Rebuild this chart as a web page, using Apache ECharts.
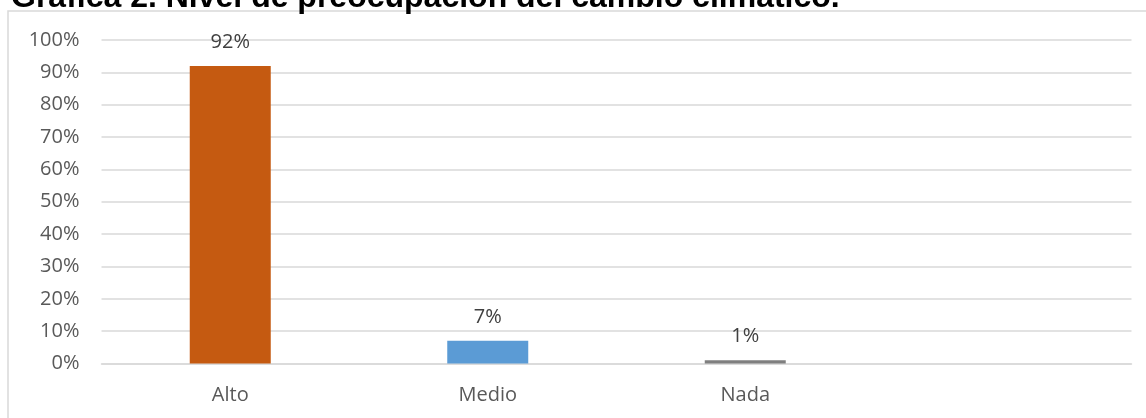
<!DOCTYPE html>
<html>
<head>
<meta charset="utf-8">
<script src="https://cdn.jsdelivr.net/npm/echarts@6/dist/echarts.min.js"></script>
<style>
  html, body { margin: 0; padding: 0; background: #ffffff; }
  #chart { width: 1146px; height: 418px; }
</style>
</head>
<body>
<div id="chart"></div>
<script>
// Nivel de preocupación del cambio climático (porcentaje de respuestas)
const categories = ['Alto', 'Medio', 'Nada', ''];
const values = [0.92, 0.07, 0.01, null];
const barColors = ['#c55a11', '#5b9bd5', '#7f7f7f', '#7f7f7f'];
const titleText = 'Gráfica 2. Nivel de preocupación del cambio climático.';

const chart = echarts.init(document.getElementById('chart'), null, { renderer: 'canvas' });

const pct = v => Math.round(v * 100) + '%';

chart.setOption({
  animation: false,
  backgroundColor: '#ffffff',
  textStyle: { fontFamily: 'Open Sans' },
  graphic: [
    {
      type: 'rect',
      shape: { x: 8, y: 11, width: 1150, height: 420 },
      style: { fill: 'none', stroke: '#d9d9d9', lineWidth: 1.5 },
      z: 0
    },
    {
      type: 'text',
      x: 11,
      y: -2,
      style: {
        text: titleText,
        fontFamily: 'Liberation Sans',
        fontWeight: 'bold',
        fontSize: 32,
        fill: '#000000',
        verticalAlign: 'middle',
        align: 'left'
      },
      z: 10
    }
  ],
  grid: { left: 101.5, right: 14.5, top: 40, bottom: 54.5 },
  xAxis: {
    type: 'category',
    data: categories,
    axisLine: { show: true, lineStyle: { color: '#d9d9d9', width: 1.5 } },
    axisTick: { show: false },
    axisLabel: { color: '#595959', fontSize: 20, margin: 22, fontFamily: 'Open Sans' }
  },
  yAxis: {
    type: 'value',
    min: 0,
    max: 1,
    interval: 0.1,
    axisLine: { show: false },
    axisTick: { show: false },
    splitLine: { lineStyle: { color: '#d9d9d9', width: 1.5 } },
    axisLabel: {
      color: '#595959',
      fontSize: 20,
      margin: 22,
      fontFamily: 'Open Sans',
      formatter: v => pct(v)
    }
  },
  series: [{
    type: 'bar',
    data: values.map((v, i) => ({ value: v, itemStyle: { color: barColors[i] } })),
    barWidth: 81,
    label: {
      show: true,
      position: 'top',
      distance: 14,
      color: '#404040',
      fontSize: 20,
      fontFamily: 'Open Sans',
      formatter: p => (p.value == null ? '' : pct(p.value))
    }
  }]
});
</script>
</body>
</html>
